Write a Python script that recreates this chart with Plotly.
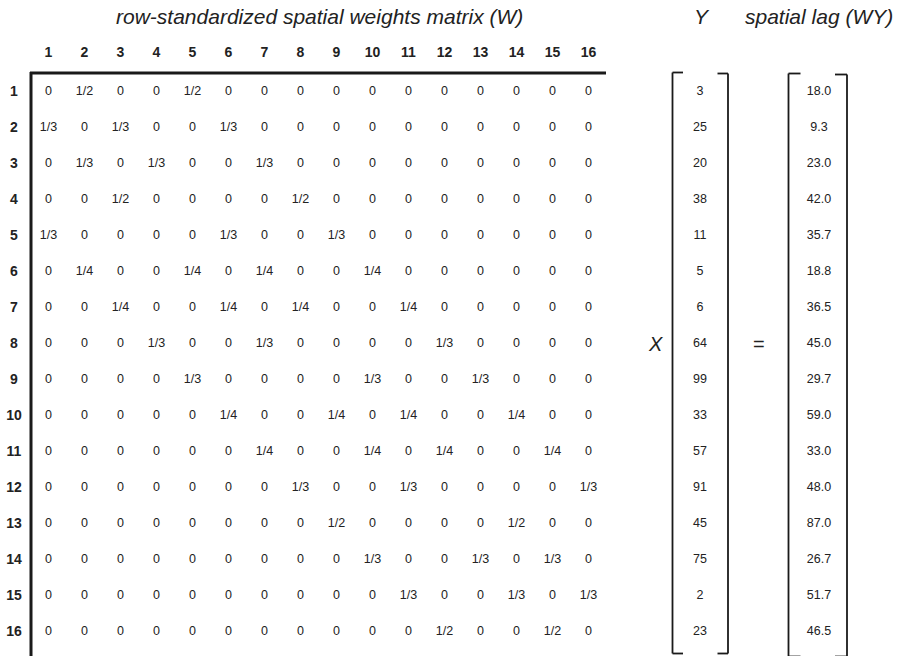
import plotly.graph_objects as go

col_labels = [str(i) for i in range(1, 17)]
row_labels = [str(i) for i in range(1, 17)]

W_rows = [
    "0 1/2 0 0 1/2 0 0 0 0 0 0 0 0 0 0 0",
    "1/3 0 1/3 0 0 1/3 0 0 0 0 0 0 0 0 0 0",
    "0 1/3 0 1/3 0 0 1/3 0 0 0 0 0 0 0 0 0",
    "0 0 1/2 0 0 0 0 1/2 0 0 0 0 0 0 0 0",
    "1/3 0 0 0 0 1/3 0 0 1/3 0 0 0 0 0 0 0",
    "0 1/4 0 0 1/4 0 1/4 0 0 1/4 0 0 0 0 0 0",
    "0 0 1/4 0 0 1/4 0 1/4 0 0 1/4 0 0 0 0 0",
    "0 0 0 1/3 0 0 1/3 0 0 0 0 1/3 0 0 0 0",
    "0 0 0 0 1/3 0 0 0 0 1/3 0 0 1/3 0 0 0",
    "0 0 0 0 0 1/4 0 0 1/4 0 1/4 0 0 1/4 0 0",
    "0 0 0 0 0 0 1/4 0 0 1/4 0 1/4 0 0 1/4 0",
    "0 0 0 0 0 0 0 1/3 0 0 1/3 0 0 0 0 1/3",
    "0 0 0 0 0 0 0 0 1/2 0 0 0 0 1/2 0 0",
    "0 0 0 0 0 0 0 0 0 1/3 0 0 1/3 0 1/3 0",
    "0 0 0 0 0 0 0 0 0 0 1/3 0 0 1/3 0 1/3",
    "0 0 0 0 0 0 0 0 0 0 0 1/2 0 0 1/2 0",
]
Y_values = [3, 25, 20, 38, 11, 5, 6, 64, 99, 33, 57, 91, 45, 75, 2, 23]
WY_values = [18.0, 9.3, 23.0, 42.0, 35.7, 18.8, 36.5, 45.0, 29.7, 59.0, 33.0, 48.0, 87.0, 26.7, 51.7, 46.5]

title_W = "row-standardized spatial weights matrix (W)"
title_Y = "Y"
title_WY = "spatial lag (WY)"

FONT = "Liberation Sans, Arial, sans-serif"
W_px, H_px = 901, 656

# layout geometry (pixel units)
x0, dx = 48.5, 36.0
y0, dy = 92.0, 36.0
row_lab_x = 14
header_y = 53
yvec_x = 700
wy_x = 819
n = len(row_labels)

def cx(j):
    return x0 + dx * j

def ry(i):
    return y0 + dy * i

TXT = "#222"
fig = go.Figure()

xs, ys, ts = [], [], []
for i, r in enumerate(W_rows):
    for j, v in enumerate(r.split()):
        xs.append(cx(j)); ys.append(ry(i)); ts.append(v)
fig.add_trace(go.Scatter(x=xs, y=ys, text=ts, mode="text",
                         textfont=dict(family=FONT, size=12.5, color=TXT),
                         hoverinfo="skip", showlegend=False, cliponaxis=False))
fig.add_trace(go.Scatter(x=[cx(j) for j in range(n)], y=[header_y] * n,
                         text=[f"<b>{c}</b>" for c in col_labels], mode="text",
                         textfont=dict(family=FONT, size=14, color=TXT),
                         hoverinfo="skip", showlegend=False, cliponaxis=False))
fig.add_trace(go.Scatter(x=[row_lab_x] * n, y=[ry(i) for i in range(n)],
                         text=[f"<b>{r}</b>" for r in row_labels], mode="text",
                         textfont=dict(family=FONT, size=14, color=TXT),
                         hoverinfo="skip", showlegend=False, cliponaxis=False))
fig.add_trace(go.Scatter(x=[yvec_x] * n, y=[ry(i) for i in range(n)],
                         text=[str(v) for v in Y_values], mode="text",
                         textfont=dict(family=FONT, size=12.5, color=TXT),
                         hoverinfo="skip", showlegend=False, cliponaxis=False))
fig.add_trace(go.Scatter(x=[wy_x] * n, y=[ry(i) for i in range(n)],
                         text=[f"{v:.1f}" for v in WY_values], mode="text",
                         textfont=dict(family=FONT, size=12.5, color=TXT),
                         hoverinfo="skip", showlegend=False, cliponaxis=False))

annotations = [
    dict(x=319, y=16, text=f"<i>{title_W}</i>", font=dict(family=FONT, size=21, color=TXT)),
    dict(x=702, y=16, text=f"<i>{title_Y}</i>", font=dict(family=FONT, size=21, color=TXT)),
    dict(x=819, y=16, text=f"<i>{title_WY}</i>", font=dict(family=FONT, size=21, color=TXT)),
    dict(x=655, y=ry(7), text="<i>X</i>", font=dict(family=FONT, size=20, color=TXT)),
    dict(x=759, y=ry(7), text="=", font=dict(family=FONT, size=20, color=TXT)),
]
for a in annotations:
    a.update(xref="x", yref="y", showarrow=False, xanchor="center", yanchor="middle")

line_c = "#1a1a1a"
shapes = [
    dict(type="line", x0=31, x1=31, y0=72, y1=670, line=dict(color=line_c, width=3)),
    dict(type="line", x0=30, x1=606, y0=73, y1=73, line=dict(color=line_c, width=3)),
]
def bracket(xl, xr, top, bot, serif=11, w=1.8):
    return [
        dict(type="line", x0=xl, x1=xl, y0=top, y1=bot, line=dict(color=line_c, width=w)),
        dict(type="line", x0=xl, x1=xl + serif, y0=top, y1=top, line=dict(color=line_c, width=w)),
        dict(type="line", x0=xl, x1=xl + serif, y0=bot, y1=bot, line=dict(color=line_c, width=w)),
        dict(type="line", x0=xr, x1=xr, y0=top + 1, y1=bot, line=dict(color=line_c, width=w)),
        dict(type="line", x0=xr - serif, x1=xr, y0=top + 1, y1=top + 1, line=dict(color=line_c, width=w)),
        dict(type="line", x0=xr - serif, x1=xr, y0=bot, y1=bot, line=dict(color=line_c, width=w)),
    ]
shapes += bracket(672.5, 728, 72.5, 653.5, serif=10.5)
shapes += bracket(788.5, 847, 73.5, 656.5, serif=12)
for s in shapes:
    s.update(xref="x", yref="y", layer="above")

fig.update_layout(
    width=W_px, height=H_px,
    margin=dict(l=0, r=0, t=0, b=0),
    paper_bgcolor="white", plot_bgcolor="white",
    xaxis=dict(range=[0, W_px], visible=False, fixedrange=True),
    yaxis=dict(range=[H_px, 0], visible=False, fixedrange=True),
    annotations=annotations, shapes=shapes,
    showlegend=False,
    hovermode=False,
)
fig.write_html(
    "out.html",
    config={"displayModeBar": False, "staticPlot": True},
    post_script="document.body.style.margin='0px';document.body.style.overflow='hidden';",
)
